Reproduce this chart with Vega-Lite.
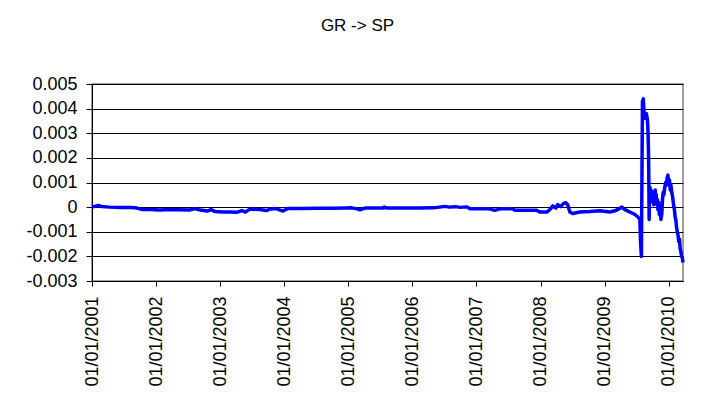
{
  "$schema": "https://vega.github.io/schema/vega-lite/v6.json",
  "autosize": "none",
  "width": 591,
  "height": 197,
  "padding": {"left": 92, "top": 84, "right": 25, "bottom": 127},
  "background": "white",
  "view": {"stroke": "#808080", "strokeWidth": 1.5},
  "title": {"text": "GR -> SP", "anchor": "middle", "dx": -30, "offset": 40, "fontSize": 17, "font": "Liberation Sans", "fontWeight": "normal", "color": "black"},
  "config": {
    "view": {"stroke": "#808080", "strokeWidth": 1.5},
    "axis": {"labelFont": "Liberation Sans", "labelFontSize": 18, "labelColor": "black", "domainColor": "black", "tickColor": "black", "gridColor": "black", "gridOpacity": 1, "titleFontSize": 1}
  },
  "data": {"values": [
    {"d": "2001-01-01", "v": 0.00000},
    {"d": "2001-01-20", "v": 0.00004},
    {"d": "2001-02-05", "v": 0.00007},
    {"d": "2001-02-25", "v": 0.00003},
    {"d": "2001-04-10", "v": 0.00000},
    {"d": "2001-06-10", "v": -0.00002},
    {"d": "2001-08-15", "v": -0.00002},
    {"d": "2001-09-15", "v": -0.00004},
    {"d": "2001-10-15", "v": -0.00010},
    {"d": "2001-12-01", "v": -0.00010},
    {"d": "2002-01-20", "v": -0.00012},
    {"d": "2002-03-20", "v": -0.00010},
    {"d": "2002-05-15", "v": -0.00011},
    {"d": "2002-07-10", "v": -0.00012},
    {"d": "2002-08-10", "v": -0.00006},
    {"d": "2002-09-10", "v": -0.00012},
    {"d": "2002-10-20", "v": -0.00016},
    {"d": "2002-11-10", "v": -0.00010},
    {"d": "2002-12-05", "v": -0.00018},
    {"d": "2003-01-15", "v": -0.00020},
    {"d": "2003-02-25", "v": -0.00020},
    {"d": "2003-04-05", "v": -0.00021},
    {"d": "2003-05-05", "v": -0.00014},
    {"d": "2003-05-25", "v": -0.00020},
    {"d": "2003-06-20", "v": -0.00008},
    {"d": "2003-08-15", "v": -0.00010},
    {"d": "2003-09-20", "v": -0.00014},
    {"d": "2003-10-15", "v": -0.00008},
    {"d": "2003-11-15", "v": -0.00006},
    {"d": "2003-12-25", "v": -0.00016},
    {"d": "2004-01-20", "v": -0.00006},
    {"d": "2004-04-01", "v": -0.00006},
    {"d": "2004-07-15", "v": -0.00005},
    {"d": "2004-10-01", "v": -0.00005},
    {"d": "2004-12-15", "v": -0.00004},
    {"d": "2005-01-20", "v": -0.00003},
    {"d": "2005-02-20", "v": -0.00007},
    {"d": "2005-03-08", "v": -0.00011},
    {"d": "2005-04-05", "v": -0.00004},
    {"d": "2005-07-15", "v": -0.00004},
    {"d": "2005-07-25", "v": 0.00000},
    {"d": "2005-08-10", "v": -0.00004},
    {"d": "2005-11-01", "v": -0.00004},
    {"d": "2006-02-01", "v": -0.00004},
    {"d": "2006-05-01", "v": -0.00003},
    {"d": "2006-06-05", "v": 0.00000},
    {"d": "2006-07-05", "v": 0.00003},
    {"d": "2006-08-01", "v": 0.00000},
    {"d": "2006-09-01", "v": 0.00002},
    {"d": "2006-10-01", "v": -0.00001},
    {"d": "2006-11-08", "v": 0.00001},
    {"d": "2006-11-25", "v": -0.00007},
    {"d": "2007-03-15", "v": -0.00007},
    {"d": "2007-04-15", "v": -0.00013},
    {"d": "2007-05-15", "v": -0.00007},
    {"d": "2007-07-25", "v": -0.00007},
    {"d": "2007-08-08", "v": -0.00013},
    {"d": "2007-12-10", "v": -0.00013},
    {"d": "2007-12-28", "v": -0.00020},
    {"d": "2008-02-06", "v": -0.00020},
    {"d": "2008-02-23", "v": -0.00010},
    {"d": "2008-03-11", "v": 0.00005},
    {"d": "2008-03-28", "v": -0.00004},
    {"d": "2008-04-08", "v": 0.00010},
    {"d": "2008-04-25", "v": 0.00002},
    {"d": "2008-05-12", "v": 0.00015},
    {"d": "2008-05-24", "v": 0.00018},
    {"d": "2008-06-04", "v": 0.00010},
    {"d": "2008-06-16", "v": -0.00020},
    {"d": "2008-07-03", "v": -0.00026},
    {"d": "2008-08-12", "v": -0.00020},
    {"d": "2008-10-08", "v": -0.00018},
    {"d": "2008-12-04", "v": -0.00015},
    {"d": "2009-01-30", "v": -0.00020},
    {"d": "2009-02-28", "v": -0.00015},
    {"d": "2009-03-28", "v": -0.00005},
    {"d": "2009-04-09", "v": 0.00000},
    {"d": "2009-04-26", "v": -0.00010},
    {"d": "2009-05-24", "v": -0.00020},
    {"d": "2009-06-22", "v": -0.00030},
    {"d": "2009-07-09", "v": -0.00040},
    {"d": "2009-07-20", "v": -0.00050},
    {"d": "2009-07-24", "v": -0.00140},
    {"d": "2009-07-29", "v": -0.00200},
    {"d": "2009-08-04", "v": 0.00430},
    {"d": "2009-08-09", "v": 0.00440},
    {"d": "2009-08-13", "v": 0.00380},
    {"d": "2009-08-18", "v": 0.00370},
    {"d": "2009-08-22", "v": 0.00360},
    {"d": "2009-08-26", "v": 0.00380},
    {"d": "2009-08-29", "v": 0.00370},
    {"d": "2009-09-02", "v": 0.00350},
    {"d": "2009-09-05", "v": 0.00300},
    {"d": "2009-09-07", "v": 0.00240},
    {"d": "2009-09-09", "v": 0.00140},
    {"d": "2009-09-11", "v": -0.00050},
    {"d": "2009-09-13", "v": 0.00060},
    {"d": "2009-09-16", "v": 0.00080},
    {"d": "2009-09-19", "v": 0.00040},
    {"d": "2009-09-22", "v": 0.00070},
    {"d": "2009-09-25", "v": 0.00030},
    {"d": "2009-09-28", "v": 0.00050},
    {"d": "2009-10-01", "v": 0.00020},
    {"d": "2009-10-04", "v": 0.00060},
    {"d": "2009-10-07", "v": 0.00010},
    {"d": "2009-10-10", "v": 0.00040},
    {"d": "2009-10-13", "v": 0.00020},
    {"d": "2009-10-16", "v": 0.00070},
    {"d": "2009-10-19", "v": 0.00030},
    {"d": "2009-10-22", "v": 0.00050},
    {"d": "2009-10-25", "v": 0.00010},
    {"d": "2009-10-28", "v": 0.00030},
    {"d": "2009-10-31", "v": -0.00010},
    {"d": "2009-11-04", "v": 0.00020},
    {"d": "2009-11-08", "v": -0.00030},
    {"d": "2009-11-12", "v": -0.00010},
    {"d": "2009-11-17", "v": -0.00050},
    {"d": "2009-11-22", "v": -0.00030},
    {"d": "2009-11-26", "v": 0.00030},
    {"d": "2009-11-30", "v": 0.00060},
    {"d": "2009-12-04", "v": 0.00050},
    {"d": "2009-12-09", "v": 0.00080},
    {"d": "2009-12-14", "v": 0.00100},
    {"d": "2009-12-19", "v": 0.00090},
    {"d": "2009-12-23", "v": 0.00120},
    {"d": "2009-12-27", "v": 0.00130},
    {"d": "2010-01-01", "v": 0.00090},
    {"d": "2010-01-05", "v": 0.00110},
    {"d": "2010-01-09", "v": 0.00070},
    {"d": "2010-01-13", "v": 0.00090},
    {"d": "2010-01-18", "v": 0.00060},
    {"d": "2010-01-23", "v": 0.00040},
    {"d": "2010-01-28", "v": 0.00010},
    {"d": "2010-02-02", "v": -0.00010},
    {"d": "2010-02-06", "v": -0.00040},
    {"d": "2010-02-10", "v": -0.00050},
    {"d": "2010-02-14", "v": -0.00080},
    {"d": "2010-02-18", "v": -0.00100},
    {"d": "2010-02-22", "v": -0.00110},
    {"d": "2010-02-27", "v": -0.00140},
    {"d": "2010-03-03", "v": -0.00130},
    {"d": "2010-03-07", "v": -0.00170},
    {"d": "2010-03-11", "v": -0.00180},
    {"d": "2010-03-15", "v": -0.00200},
    {"d": "2010-03-19", "v": -0.00205},
    {"d": "2010-03-23", "v": -0.00225}
  ]},
  "mark": {"type": "line", "color": "#0000FF", "strokeWidth": 3.5, "strokeJoin": "round", "clip": false},
  "encoding": {
    "x": {
      "field": "d", "type": "temporal", "title": null,
      "scale": {"type": "utc", "domain": [{"year": 2001, "month": 1, "date": 1, "utc": true}, {"year": 2010, "month": 3, "date": 23, "utc": true}], "nice": false},
      "axis": {
        "values": [
          {"year": 2001, "month": 1, "date": 1, "utc": true},
          {"year": 2002, "month": 1, "date": 1, "utc": true},
          {"year": 2003, "month": 1, "date": 1, "utc": true},
          {"year": 2004, "month": 1, "date": 1, "utc": true},
          {"year": 2005, "month": 1, "date": 1, "utc": true},
          {"year": 2006, "month": 1, "date": 1, "utc": true},
          {"year": 2007, "month": 1, "date": 1, "utc": true},
          {"year": 2008, "month": 1, "date": 1, "utc": true},
          {"year": 2009, "month": 1, "date": 1, "utc": true},
          {"year": 2010, "month": 1, "date": 1, "utc": true}
        ],
        "labelExpr": "utcFormat(datum.value, '%d/%m/%Y')",
        "labelAngle": -90, "labelAlign": "right", "labelBaseline": "middle",
        "tickSize": 5, "labelPadding": 10, "grid": false, "labelOverlap": false, "labelFlush": false
      }
    },
    "y": {
      "field": "v", "type": "quantitative", "title": null,
      "scale": {"domain": [-0.003, 0.005], "nice": false, "zero": false},
      "axis": {
        "values": [-0.003, -0.002, -0.001, 0, 0.001, 0.002, 0.003, 0.004, 0.005],
        "labelExpr": "replace(format(datum.value, '.3~f'), '\u2212', '-')",
        "tickSize": 6, "labelPadding": 9, "grid": true, "labelOverlap": false, "labelFlush": false
      }
    }
  }
}
